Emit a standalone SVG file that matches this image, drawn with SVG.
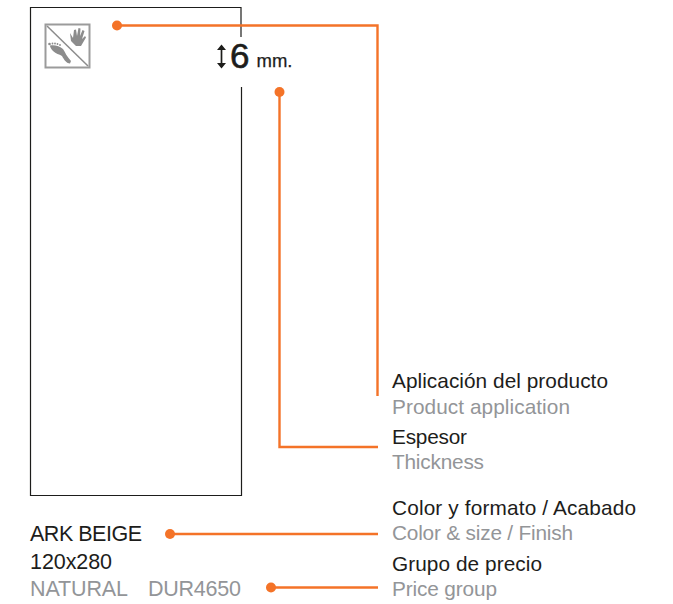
<svg xmlns="http://www.w3.org/2000/svg" width="673" height="604" viewBox="0 0 673 604">
<style>
text{font-family:"Liberation Sans",Arial,sans-serif;font-size:20.800px}
.k{fill:#1d1d1b}.g{fill:#939598}
.p{font-size:21.500px}
.l{fill:none;stroke:#f47328;stroke-width:2.400}
.d{fill:#f47328}
</style>
<rect width="673" height="604" fill="#fff"/>
<g id="panel">
<path d="M241 37V7.500H30.500V495.500H241.500V87" fill="none" stroke="#1d1d1b" stroke-width="1.200"/>
</g>
<g id="icon">
<rect x="45.500" y="24.500" width="44" height="43" fill="#fff" stroke="#9b9b9b" stroke-width="2"/>
<path d="M47 26L88 66" stroke="#8c8c8c" stroke-width="1.500"/>
<path d="M70 33L73 38L74 30L76 29.500L77 36L78.500 28L80.500 28.500L80 36L82.500 30L84.500 31L82 39L85 36L86 37.500L81 46L76 46L71 41Z" fill="#8c8c8c"/>
<path d="M50 45.500C54 44.500 60 46 63 49C65 52 67 57 71 61L70 63.500C67 63.500 64 60 62 56C59 54 56 54 53 51C51 49 50 47 50 45.500Z" fill="#8c8c8c"/>
<g fill="#8c8c8c"><circle cx="49.500" cy="44" r="1.300"/><circle cx="52.500" cy="43.500" r=".9"/><circle cx="55" cy="43.500" r=".9"/><circle cx="57.500" cy="44" r=".9"/><circle cx="60" cy="45" r=".9"/></g>
</g>
<g id="thickness">
<path d="M221.500 46V67" stroke="#1d1d1b" stroke-width="1.700"/>
<path d="M217 50L221.500 44.500L226 50ZM217 63L221.500 68.500L226 63Z" fill="#1d1d1b"/>
<text x="230" y="67.500" style="font-size:35px;stroke:#1d1d1b;stroke-width:.6" class="k">6</text>
<text x="256.500" y="67" style="font-size:18.500px;stroke:#1d1d1b;stroke-width:.25" class="k" textLength="36">mm.</text>
</g>
<g id="connectors">
<path class="l" d="M117 25.500H377.500V396"/>
<path class="l" d="M279.500 92V447H378"/>
<path class="l" d="M170 534H378"/>
<path class="l" d="M271 587.500H378"/>
<circle class="d" cx="117" cy="25.500" r="5"/>
<circle class="d" cx="279.500" cy="92" r="5"/>
<circle class="d" cx="170" cy="534" r="5"/>
<circle class="d" cx="271" cy="587.500" r="5"/>
</g>
<g id="label-application"><text x="392" y="388" class="k" textLength="216">Aplicación del producto</text><text x="392" y="414" class="g" textLength="178">Product application</text></g>
<g id="label-thickness"><text x="392" y="444" class="k" textLength="75">Espesor</text><text x="392" y="469" class="g" textLength="92">Thickness</text></g>
<g id="label-color"><text x="392" y="515" class="k" textLength="244">Color y formato / Acabado</text><text x="392" y="540" class="g" textLength="181">Color &amp; size / Finish</text></g>
<g id="label-price"><text x="392" y="571" class="k" textLength="150">Grupo de precio</text><text x="392" y="596" class="g" textLength="105">Price group</text></g>
<g id="product"><text x="30" y="541" class="k p" textLength="112">ARK BEIGE</text><text x="30" y="569" class="k p" textLength="82">120x280</text><text x="30" y="596" class="g p" textLength="98">NATURAL</text><text x="148" y="596" class="g p" textLength="93">DUR4650</text></g>
</svg>
